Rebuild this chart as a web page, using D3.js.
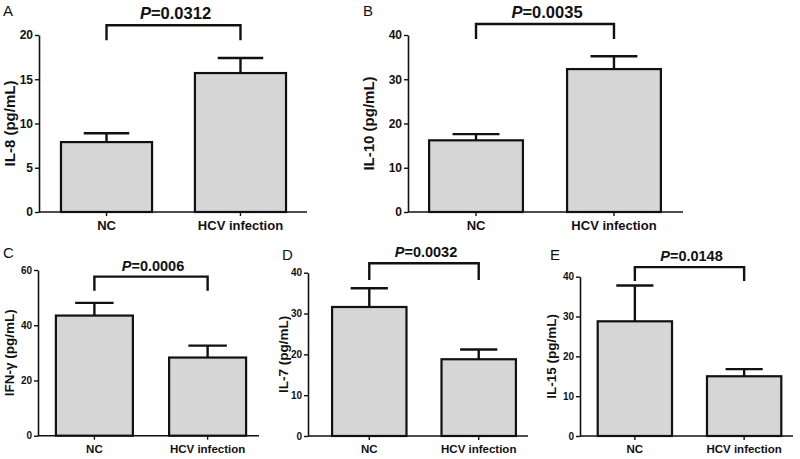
<!DOCTYPE html>
<html>
<head>
<meta charset="utf-8">
<script src="https://cdn.jsdelivr.net/npm/d3@7"></script>
<style>
  html, body { margin: 0; padding: 0; background: #fff; }
  svg { display: block; font-family: "Liberation Sans", Arial, sans-serif; }
</style>
</head>
<body>
<svg id="chart" width="800" height="459"></svg>
<script>
// ---- data ----
const categories = ["NC", "HCV infection"];
const panelLetters = ["A", "B", "C", "D", "E"];
const yLabels = ["IL-8 (pg/mL)", "IL-10 (pg/mL)", "IFN-\u03b3 (pg/mL)", "IL-7 (pg/mL)", "IL-15 (pg/mL)"];
const meanValues = [[7.9, 15.7], [16.2, 32.3], [43.5, 28.3], [31.6, 18.8], [28.8, 15.0]];
const errValues  = [[1.0, 1.7], [1.4, 2.9], [4.6, 4.3], [4.6, 2.4], [9.0, 1.8]];
const yMax = [20, 40, 60, 40, 40];
const yTicks = [[0, 5, 10, 15, 20], [0, 10, 20, 30, 40], [0, 20, 40, 60], [0, 10, 20, 30, 40], [0, 10, 20, 30, 40]];
const pLabels = ["0.0312", "0.0035", "0.0006", "0.0032", "0.0148"];
const bracketTop = [21.1, 42.5, 57.6, 42.3, 42.4];
const bracketBottom = [19.4, 39.1, 52.5, 38.2, 38.9];

// ---- layout (positions / sizes / styles) ----
const layout = [
  { x0: 39,  axisEnd: 307, bandEnd: 308, po: 0.164, yTop: 35,    yBase: 212,   letter: [3, 16],    ylabX: 9,   tickFs: 12, xFs: 13,   yFs: 15,   pFs: 16.5 },
  { x0: 408, axisEnd: 683, bandEnd: 682, po: 0.153, yTop: 35,    yBase: 212,   letter: [363, 16],  ylabX: 368, tickFs: 12, xFs: 13,   yFs: 15,   pFs: 16.5 },
  { x0: 38,  axisEnd: 259, bandEnd: 264, po: 0.158, yTop: 270,   yBase: 435.7, letter: [3, 258],   ylabX: 9,   tickFs: 10, xFs: 11.5, yFs: 13.5, pFs: 14.5 },
  { x0: 308, axisEnd: 528, bandEnd: 540, po: 0.22,  yTop: 272.7, yBase: 436,   letter: [282, 260], ylabX: 283, tickFs: 10, xFs: 11.5, yFs: 13.5, pFs: 14.5 },
  { x0: 580, axisEnd: 793, bandEnd: 799, po: 0.162, yTop: 276.7, yBase: 436,   letter: [550, 260], ylabX: 551, tickFs: 10, xFs: 11.5, yFs: 13.5, pFs: 14.5 }
];
const barFill = "#d6d6d6";
const ink = "#111";

const svg = d3.select("#chart");
svg.append("rect").attr("width", 800).attr("height", 459).attr("fill", "#fff");

layout.forEach((L, i) => {
  const g = svg.append("g");
  const x = d3.scaleBand().domain(categories).range([L.x0, L.bandEnd])
    .paddingInner(0.32).paddingOuter(L.po);
  const y = d3.scaleLinear().domain([0, yMax[i]]).range([L.yBase, L.yTop]);
  const bw = x.bandwidth();

  // bars
  const rows = categories.map((c, j) => ({ c, v: meanValues[i][j], e: errValues[i][j] }));
  // error bars (drawn first so bar outline covers base)
  rows.forEach(d => {
    const cx = x(d.c) + bw / 2;
    g.append("line").attr("x1", cx).attr("x2", cx).attr("y1", y(d.v)).attr("y2", y(d.v + d.e))
      .attr("stroke", ink).attr("stroke-width", 2.4);
    g.append("line").attr("x1", cx - bw * 0.25).attr("x2", cx + bw * 0.25)
      .attr("y1", y(d.v + d.e)).attr("y2", y(d.v + d.e))
      .attr("stroke", ink).attr("stroke-width", 2.4);
  });
  g.selectAll("rect.bar").data(rows).enter().append("rect")
    .attr("class", "bar")
    .attr("x", d => x(d.c)).attr("width", bw)
    .attr("y", d => y(d.v)).attr("height", d => y(0) - y(d.v))
    .attr("fill", barFill).attr("stroke", ink).attr("stroke-width", 2.2);

  // y axis
  const ya = g.append("g").attr("transform", `translate(${L.x0},0)`)
    .call(d3.axisLeft(y).tickValues(yTicks[i]).tickSize(4).tickSizeOuter(0).tickPadding(2).tickFormat(d3.format("d")));
  ya.select(".domain").attr("stroke", ink).attr("stroke-width", 1.6);
  ya.selectAll(".tick line").attr("stroke", ink).attr("stroke-width", 1.4);
  ya.selectAll(".tick text").attr("font-size", L.tickFs).attr("font-weight", "bold")
    .attr("fill", ink).attr("font-family", "Liberation Sans, Arial, sans-serif");

  // x axis
  const xa = g.append("g").attr("transform", `translate(0,${L.yBase})`)
    .call(d3.axisBottom(x).tickSize(4).tickPadding(5).tickSizeOuter(0));
  xa.select(".domain").remove();
  xa.append("line").attr("x1", L.x0).attr("x2", L.axisEnd).attr("y1", 0).attr("y2", 0)
    .attr("stroke", ink).attr("stroke-width", 1.6);
  xa.selectAll(".tick line").attr("stroke", ink).attr("stroke-width", 1.4);
  xa.selectAll(".tick text").attr("font-size", L.xFs).attr("font-weight", "bold")
    .attr("fill", ink).attr("font-family", "Liberation Sans, Arial, sans-serif");

  // y label
  g.append("text")
    .attr("transform", `translate(${L.ylabX},${(L.yTop + L.yBase) / 2}) rotate(-90)`)
    .attr("text-anchor", "middle").attr("dominant-baseline", "central")
    .attr("font-size", L.yFs).attr("font-weight", "bold").attr("fill", ink)
    .text(yLabels[i]);

  // panel letter
  g.append("text").attr("x", L.letter[0]).attr("y", L.letter[1])
    .attr("font-size", 15).attr("fill", ink).text(panelLetters[i]);

  // significance bracket
  const c0 = x(categories[0]) + bw / 2, c1 = x(categories[1]) + bw / 2;
  const bt = y(bracketTop[i]), bb = y(bracketBottom[i]);
  g.append("path")
    .attr("d", `M${c0},${bb}V${bt}H${c1}V${bb}`)
    .attr("fill", "none").attr("stroke", ink).attr("stroke-width", 2.4);
  const pt = g.append("text").attr("x", (c0 + c1) / 2 + 2).attr("y", bt - 6)
    .attr("text-anchor", "middle").attr("font-size", L.pFs).attr("font-weight", "bold").attr("fill", ink);
  pt.append("tspan").attr("font-style", "italic").text("P");
  pt.append("tspan").text("=" + pLabels[i]);
});
</script>
</body>
</html>
